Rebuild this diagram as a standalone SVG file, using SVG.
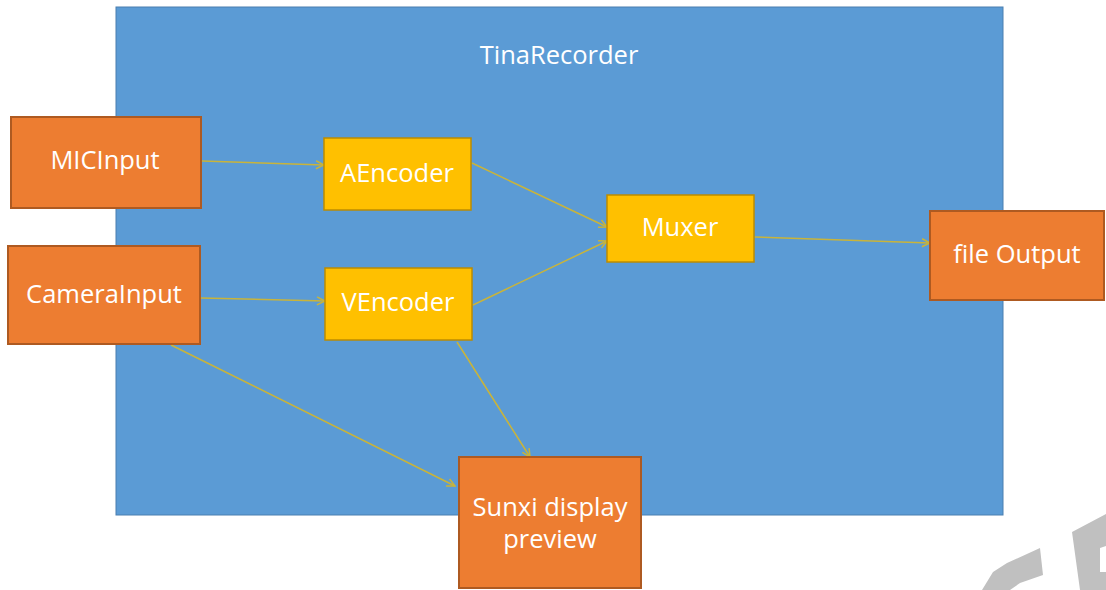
<svg xmlns="http://www.w3.org/2000/svg" width="1106" height="590" viewBox="0 0 1106 590">
<style>
.txt{font-family:"Open Sans","Noto Sans",sans-serif;fill:#fff;font-size:25.5px;text-anchor:middle;dominant-baseline:central}
.or{fill:#ED7D31;stroke:#AE5A21;stroke-width:2}
.ye{fill:#FFC000;stroke:#BC8C00;stroke-width:1.5}
.cn{stroke:#C9B43A;stroke-width:1.5;fill:none;marker-end:url(#ah)}
</style>
<defs>
<marker id="ah" viewBox="0 0 10 10" refX="9" refY="5" markerWidth="10" markerHeight="10" markerUnits="userSpaceOnUse" orient="auto">
<path d="M1,1 L9,5 L1,9" fill="none" stroke="#C9B43A" stroke-width="1.5"/>
</marker>
</defs>
<rect width="1106" height="590" fill="#fff"/>
<g id="watermark" fill="#C0C0C0">
<polygon points="982,590 993,572 1007,563 1040,548 1043,575 1020,583 1010,590"/>
<polygon points="1072,532 1106,514 1106,546 1100,548 1100,572 1106,572 1106,590 1080,590"/>
</g>
<g id="tinarecorder">
<rect x="116" y="7" width="887" height="508" fill="#5B9BD5" stroke="#4A7FB0" stroke-width="1"/>
<text class="txt" x="559" y="54" font-size="24">TinaRecorder</text>
</g>
<g id="connectors">
<line class="cn" x1="202" y1="161" x2="324" y2="165"/>
<line class="cn" x1="201" y1="298" x2="325" y2="301"/>
<line class="cn" x1="472" y1="163" x2="607" y2="227"/>
<line class="cn" x1="473" y1="305" x2="607" y2="241"/>
<line class="cn" x1="755" y1="237" x2="930" y2="243"/>
<line class="cn" x1="171" y1="345" x2="455" y2="486"/>
<line class="cn" x1="457" y1="342" x2="530" y2="457"/>
</g>
<g id="micinput">
<rect class="or" x="11" y="117" width="190" height="91"/>
<text class="txt" x="105" y="159">MICInput</text>
</g>
<g id="camerainput">
<rect class="or" x="8" y="246" width="192" height="98"/>
<text class="txt" x="104" y="293">CameraInput</text>
</g>
<g id="aencoder">
<rect class="ye" x="324" y="138" width="147" height="72"/>
<text class="txt" x="397" y="172">AEncoder</text>
</g>
<g id="vencoder">
<rect class="ye" x="325" y="268" width="147" height="72"/>
<text class="txt" x="398" y="301">VEncoder</text>
</g>
<g id="muxer">
<rect class="ye" x="607" y="195" width="147" height="67"/>
<text class="txt" x="680" y="226">Muxer</text>
</g>
<g id="fileoutput">
<rect class="or" x="930" y="211" width="174" height="89"/>
<text class="txt" x="1017" y="253">file Output</text>
</g>
<g id="sunxi">
<rect class="or" x="459" y="457" width="182" height="131"/>
<text class="txt" x="550" y="506">Sunxi display</text>
<text class="txt" x="550" y="538">preview</text>
</g>
</svg>
